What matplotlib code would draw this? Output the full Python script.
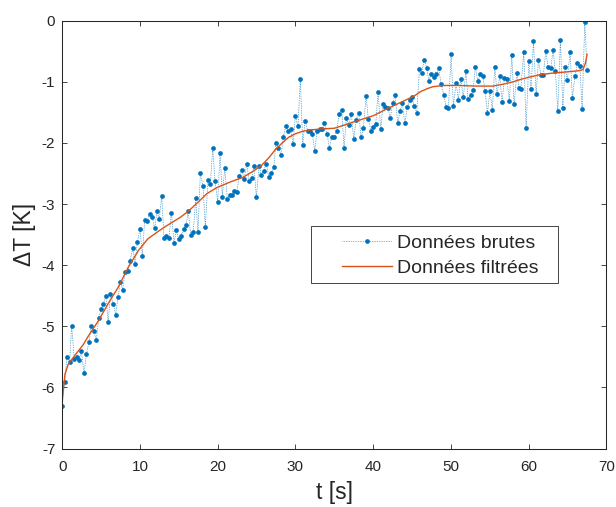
import matplotlib
matplotlib.use("Agg")
import matplotlib.pyplot as plt
from matplotlib.patches import Rectangle

plt.rcParams['font.family'] = ['Liberation Sans', 'DejaVu Sans']
plt.rcParams['axes.unicode_minus'] = False

# ---- raw data (t [s], dT [K]) ----
t_raw = [0, 0.3, 0.6, 0.95, 1.2, 1.55, 1.85, 2.15, 2.45, 2.8, 3.1, 3.44, 3.73, 4.08, 4.38, 4.68, 4.98, 5.3, 5.6, 5.9,
         6.2, 6.57, 6.87, 7.17, 7.47, 7.77, 8.07, 8.4, 8.7, 9.06, 9.36, 9.66, 10.0, 10.3, 10.6, 10.9, 11.25, 11.55,
         11.9, 12.19, 12.48, 12.79, 13.09, 13.39, 13.73, 14.03, 14.38, 14.67, 14.98, 15.28, 15.62, 15.92, 16.22, 16.52,
         16.86, 17.17, 17.46, 17.76, 18.1, 18.4, 18.75, 19.05, 19.36, 19.65, 20.0, 20.3, 20.59, 20.9, 21.24, 21.54,
         21.84, 22.14, 22.44, 22.78, 23.09,
         23.42, 23.73, 24.07, 24.38, 24.67, 24.97, 25.32, 25.61, 25.92, 26.25, 26.56, 26.86, 27.21, 27.5, 27.8, 28.15,
         28.44, 28.75, 29.05, 29.4, 29.69, 29.99, 30.33, 30.63, 30.94, 31.24, 31.58, 31.88, 32.17, 32.48, 32.78, 33.13,
         33.42, 33.72, 34.07, 34.36, 34.67, 35.0,
         35.32, 35.61, 35.96, 36.25, 36.55, 36.86, 37.19, 37.5, 37.8, 38.15, 38.44, 38.74, 39.09, 39.38, 39.69, 40.03,
         40.33, 40.63, 40.98, 41.27, 41.57, 41.92, 42.21, 42.52, 42.82, 43.17, 43.46, 43.76, 44.07, 44.4, 44.71, 45.01,
         45.3, 45.61, 45.95, 46.26, 46.55, 46.9,
         47.15, 47.45, 47.8, 48.1, 48.44, 48.74, 49.09, 49.38, 49.68, 50.03, 50.32, 50.67, 50.97, 51.27, 51.61, 51.92,
         52.21, 52.56, 52.85, 53.15, 53.46, 53.8, 54.11, 54.4, 54.7, 55.04, 55.34, 55.65, 55.95, 56.29, 56.59, 56.89,
         57.2, 57.53, 57.84, 58.13, 58.48, 58.78,
         59.0, 59.38, 59.68, 60.03, 60.32, 60.62, 60.97, 61.26, 61.61, 61.9, 62.21, 62.51, 62.86, 63.15, 63.45, 63.76,
         64.09, 64.4, 64.7, 64.99, 65.34, 65.64, 65.95, 66.28, 66.59, 66.89, 67.23, 67.53]
dT_raw = [-6.31, -5.91, -5.50, -5.58, -4.99, -5.54, -5.51, -5.56, -5.41, -5.76, -5.46, -5.25, -4.99, -5.08, -5.23,
          -4.87, -4.72, -4.63, -4.50, -4.93, -4.48, -4.63, -4.81, -4.52, -4.27, -4.40, -4.11, -4.10, -3.94, -3.72,
          -3.98, -3.62, -3.41, -3.85, -3.26, -3.27, -3.16, -3.21,
          -3.40, -3.12, -3.25, -2.87, -3.56, -3.52, -3.56, -3.14, -3.63, -3.43, -3.57, -3.52, -3.41, -3.35, -3.12,
          -3.51, -3.45, -2.90, -3.46, -2.50, -2.70, -3.37, -2.61, -2.67, -2.08, -2.62, -2.96, -2.16, -2.88, -2.41,
          -2.92, -2.85, -2.85, -2.78, -2.80, -2.54, -2.44,
          -2.59, -2.34, -2.63, -2.57, -2.37, -2.89, -2.37, -2.52, -2.46, -2.34, -2.55, -2.49, -2.40, -2.00, -2.08,
          -2.19, -1.91, -1.72, -1.80, -1.78, -2.02, -1.56, -1.73, -0.96, -2.03, -1.64, -1.80, -1.81, -1.85, -2.13,
          -1.81, -1.77, -1.78, -1.68, -1.85, -2.08, -1.90, -1.91,
          -1.81, -1.52, -1.46, -2.08, -1.60, -1.70, -1.52, -1.94, -1.62, -1.51, -1.91, -1.76, -1.23, -1.61, -1.80,
          -1.74, -1.69, -1.17, -1.78, -1.37, -1.41, -1.43, -1.60, -1.34, -1.22, -1.68, -1.47, -1.35, -1.68, -1.42,
          -1.29, -1.25, -1.40, -1.51, -0.79, -0.86, -0.64, -0.77,
          -0.98, -0.88, -0.92, -0.88, -0.78, -1.04, -1.21, -1.41, -1.43, -0.55, -1.39, -1.02, -1.29, -0.95, -1.25,
          -0.82, -1.28, -1.21, -1.14, -0.75, -0.99, -0.88, -0.91, -1.15, -1.51, -1.15, -1.46, -0.75, -1.20, -0.90,
          -1.33, -0.93, -0.96, -1.31, -0.56, -1.37, -0.86, -1.10,
          -1.12, -0.51, -1.75, -0.66, -1.12, -0.34, -1.20, -0.65, -0.89, -0.89, -0.50, -0.76, -0.77, -0.48, -0.83,
          -1.48, -0.31, -1.43, -0.76, -0.97, -0.51, -1.27, -0.91, -0.70, -0.74, -1.45, -0.02, -0.81]

# ---- filtered data ----
t_filt = [0, 0.35, 0.77, 1.6, 2.7, 3.4, 4.6, 5.9, 7.2, 8.5, 9.8, 11.0, 12.2, 13.0, 14.0, 15.15, 16.2, 17.3, 18.6,
          19.9, 21.6, 23.3, 24.6, 25.7, 26.6, 27.4, 28.3, 29.1, 30.0, 30.9, 31.7, 33.4, 35.0, 36.7, 38.4, 40.1,
          41.8, 43.5, 45.3, 46.1, 47.0, 47.7, 49.0, 51.1, 53.3, 55.4, 56.7, 58.0, 59.0, 59.9, 61.2, 62.9, 64.7,
          66.4, 67.0, 67.3, 67.53]
dT_filt = [-6.19, -5.78, -5.62, -5.48, -5.30, -5.15, -4.92, -4.63, -4.36, -4.03, -3.76, -3.57, -3.46, -3.39, -3.31,
           -3.22, -3.12, -2.99, -2.83, -2.73, -2.64, -2.56, -2.46, -2.36, -2.24, -2.11, -2.00, -1.91, -1.85, -1.81,
           -1.79, -1.77, -1.76, -1.69, -1.62, -1.55, -1.44, -1.34, -1.23, -1.16, -1.11, -1.08, -1.06, -1.06, -1.07,
           -1.07, -1.04, -1.00, -0.96, -0.93, -0.89, -0.86, -0.84, -0.82, -0.80, -0.70, -0.55]

x_ticks = [0, 10, 20, 30, 40, 50, 60, 70]
y_ticks = [-7, -6, -5, -4, -3, -2, -1, 0]
labels = ['Données brutes', 'Données filtrées']

W, H = 616, 507
fig = plt.figure(figsize=(W / 100, H / 100), dpi=100)
L, R, T, B = 62.3, 606.3, 20.7, 448.5
ax = fig.add_axes([L / W, (H - B) / H, (R - L) / W, (B - T) / H])

blue = '#0072BD'
orange = '#D95319'
ax.plot(t_raw, dT_raw, color=blue, linestyle=(0, (1, 1.5)), linewidth=0.5,
        marker='o', markersize=3.4, markeredgewidth=0, label=labels[0])
ax.plot(t_filt, dT_filt, color=orange, linewidth=1.0, label=labels[1])

ax.set_xlim(0, 70)
ax.set_ylim(-7, 0)
ax.set_xticks(x_ticks)
ax.set_yticks(y_ticks)
ax.set_xticklabels([str(v) for v in x_ticks])
ax.set_yticklabels([str(v) for v in y_ticks])

dark = '#262626'
for s in ax.spines.values():
    s.set_color(dark)
    s.set_linewidth(0.75)
ax.tick_params(direction='in', length=3.6, width=0.6, colors=dark, labelsize=11,
               top=True, right=True)
ax.tick_params(axis='x', pad=8.5)
ax.tick_params(axis='y', pad=5)
ax.set_xlabel('t [s]', fontsize=16.5, color=dark, labelpad=5)
ax.set_ylabel('ΔT [K]', fontsize=16.5, color=dark, labelpad=4)

# legend (box drawn separately to reproduce the wide left padding)
lx0 = (310.7 - L) / (R - L)
lx1 = (558.0 - L) / (R - L)
ly0 = (B - 282.7) / (B - T)
ly1 = (B - 225.7) / (B - T)
ax.add_patch(Rectangle((lx0, ly0), lx1 - lx0, ly1 - ly0, transform=ax.transAxes,
                       facecolor='white', edgecolor=dark, linewidth=0.6, zorder=5))
leg = ax.legend(loc='center left', bbox_to_anchor=((341.7 - L) / (R - L), (B - 255.8) / (B - T)),
                frameon=False, fontsize=14, borderpad=0, borderaxespad=0, handlelength=2.57,
                handletextpad=0.26, labelspacing=0.38, numpoints=1)
leg.set_zorder(6)
for txt in leg.get_texts():
    txt.set_color(dark)

fig.savefig('out.png', dpi=100)
